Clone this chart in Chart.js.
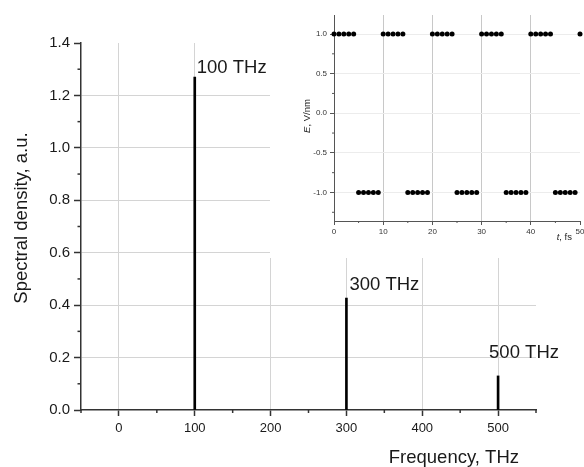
<!DOCTYPE html>
<html>
<head>
<meta charset="utf-8">
<script src="https://cdn.jsdelivr.net/npm/chart.js@4.4.1/dist/chart.umd.min.js"></script>
<style>
html,body{margin:0;padding:0;background:#fff;}
#wrap{position:relative;width:584px;height:467px;overflow:hidden;}
#main{position:absolute;left:0;top:0;}
#inset{position:absolute;left:270px;top:0;background:#fff;}
</style>
</head>
<body>
<div id="wrap">
  <canvas id="main" width="584" height="467"></canvas>
  <canvas id="inset" width="314" height="258"></canvas>
</div>
<script>
// ─── Spectrum data ───
const peakFreq  = [100, 300, 500];          // THz
const peakAmp   = [1.27, 0.427, 0.13];      // a.u.
const peakText  = ['100 THz', '300 THz', '500 THz'];
const freqTicks = [0, 100, 200, 300, 400, 500];
const ampTicks  = [0, 0.2, 0.4, 0.6, 0.8, 1.0, 1.2, 1.4];

// ─── Inset: square wave samples ───
const tFs    = [0,1,2,3,4,5,6,7,8,9,10,11,12,13,14,15,16,17,18,19,20,21,22,23,24,25,
                26,27,28,29,30,31,32,33,34,35,36,37,38,39,40,41,42,43,44,45,46,47,48,49,50];
const eField = [1,1,1,1,1,-1,-1,-1,-1,-1, 1,1,1,1,1,-1,-1,-1,-1,-1,
                1,1,1,1,1,-1,-1,-1,-1,-1, 1,1,1,1,1,-1,-1,-1,-1,-1,
                1,1,1,1,1,-1,-1,-1,-1,-1, 1];
const tTicks = [0, 10, 20, 30, 40, 50];
const eTicks = [-1, -0.5, 0, 0.5, 1];

const FONT = '"Liberation Sans", Arial, sans-serif';
const CLEAR = 'rgba(0,0,0,0)';

// ─── Minor tick marks (Chart.js has none) ───
const minorTicks = {
    id:'minorTicks',
    afterDraw(chart, args, o){
        const ctx = chart.ctx;
        ctx.save();
        ctx.strokeStyle = o.color; ctx.lineWidth = o.width;
        (o.axes||[]).forEach(a=>{
            const s = chart.scales[a.id];
            const majors = s.ticks.map(t=>t.value);
            for(let i=Math.ceil(s.min/a.step-1e-9); i*a.step<=s.max+1e-9; i++){
                const v = i*a.step;
                if(majors.some(m=>Math.abs(m-v)<1e-6)) continue;
                const p = s.getPixelForValue(v);
                ctx.beginPath();
                if(s.isHorizontal()){ ctx.moveTo(p, s.top); ctx.lineTo(p, s.top+a.len); }
                else { ctx.moveTo(s.right, p); ctx.lineTo(s.right-a.len, p); }
                ctx.stroke();
            }
        });
        ctx.restore();
    }
};

// ─── Titles + peak labels for main chart ───
const mainText = {
    id:'mainText',
    afterDraw(chart, args, o){
        const ctx = chart.ctx, xs = chart.scales.x, ys = chart.scales.y;
        ctx.save();
        ctx.fillStyle = '#1a1a1a';
        ctx.font = `18.5px ${FONT}`;
        ctx.textBaseline = 'alphabetic';
        // peak labels
        ctx.textAlign = 'left';
        peakFreq.forEach((f,i)=>{
            const [dx,dy] = o.offsets[i];
            ctx.fillText(peakText[i], xs.getPixelForValue(f)+dx, ys.getPixelForValue(peakAmp[i])-dy);
        });
        // x title
        ctx.textAlign = 'right';
        ctx.fillText('Frequency, THz', 519, 463);
        // y title
        ctx.translate(27, 218);
        ctx.rotate(-Math.PI/2);
        ctx.textAlign = 'center';
        ctx.fillText('Spectral density, a.u.', 0, 0);
        ctx.restore();
    }
};

// ─── Titles for inset ───
function mixedText(ctx, parts){
    let w = 0;
    parts.forEach(p=>{ctx.font=p[1]; w+=ctx.measureText(p[0]).width;});
    return w;
}
const insetText = {
    id:'insetText',
    afterDraw(chart){
        const ctx = chart.ctx;
        const it = `italic 9.5px ${FONT}`, rg = `9.5px ${FONT}`;
        ctx.save();
        ctx.fillStyle = '#222';
        ctx.textBaseline = 'alphabetic';
        ctx.textAlign = 'left';
        // y title, rotated
        let parts = [['E', it], [', V/nm', rg]];
        let w = mixedText(ctx, parts);
        ctx.save();
        ctx.translate(40, 116);
        ctx.rotate(-Math.PI/2);
        let x = -w/2;
        parts.forEach(p=>{ctx.font=p[1]; ctx.fillText(p[0], x, 0); x+=ctx.measureText(p[0]).width;});
        ctx.restore();
        // x title
        parts = [['t', it], [', fs', rg]];
        w = mixedText(ctx, parts);
        x = 302 - w;
        parts.forEach(p=>{ctx.font=p[1]; ctx.fillText(p[0], x, 240); x+=ctx.measureText(p[0]).width;});
        ctx.restore();
    }
};

// ─── Main spectrum ───
new Chart(document.getElementById('main'), {
    type:'bar',
    data:{datasets:[{
        data: peakFreq.map((f,i)=>({x:f, y:peakAmp[i]})),
        backgroundColor:'#000', borderWidth:0, barThickness:2
    }]},
    options:{
        responsive:false, animation:false,
        layout:{padding:{left:0, top:43, right:48, bottom:0}},
        plugins:{
            legend:{display:false}, tooltip:{enabled:false},
            minorTicks:{color:'#333', width:1.5, axes:[{id:'x', step:50, len:3}, {id:'y', step:0.1, len:3.5}]},
            mainText:{offsets:[[2,4],[3,8],[-9,18]]}
        },
        scales:{
            x:{
                type:'linear', min:-50, max:550, offset:false,
                afterBuildTicks:s=>{s.ticks = freqTicks.map(v=>({value:v}));},
                afterFit:s=>{s.height = 57; s.paddingLeft = 0; s.paddingRight = 0;},
                grid:{offset:false, color:'#d4d4d4', lineWidth:1, tickLength:6, tickColor:'#333', tickWidth:1.5},
                border:{color:'#333', width:1.5},
                ticks:{font:{size:13, family:FONT}, color:'#1a1a1a', padding:5, maxRotation:0, autoSkip:false,
                       callback:v=>String(v)}
            },
            y:{
                min:0, max:1.4,
                afterBuildTicks:s=>{s.ticks = ampTicks.map(v=>({value:v}));},
                afterFit:s=>{s.width = 81; s.paddingTop = 0; s.paddingBottom = 0;},
                grid:{color:c=>(c.tick && (c.tick.value===0 || c.tick.value>1.39)) ? CLEAR : '#d4d4d4',
                      lineWidth:1, tickLength:7, tickColor:'#333', tickWidth:1.5},
                border:{color:'#333', width:1.5},
                ticks:{font:{size:15, family:FONT}, color:'#1a1a1a', padding:4, autoSkip:false,
                       callback:v=>Number(v).toFixed(1)}
            }
        }
    },
    plugins:[minorTicks, mainText]
});

// ─── Inset: E(t) ───
new Chart(document.getElementById('inset'), {
    type:'scatter',
    data:{datasets:[{
        data: tFs.map((t,i)=>({x:t, y:eField[i]})),
        backgroundColor:'#000', borderWidth:0, pointRadius:2.5, clip:false
    }]},
    options:{
        responsive:false, animation:false,
        layout:{padding:{left:0, top:15, right:4, bottom:0}},
        plugins:{
            legend:{display:false}, tooltip:{enabled:false},
            minorTicks:{color:'#555', width:1, axes:[{id:'x', step:5, len:2}, {id:'y', step:0.25, len:2}]}
        },
        scales:{
            x:{
                type:'linear', min:0, max:50,
                afterBuildTicks:s=>{s.ticks = tTicks.map(v=>({value:v}));},
                afterFit:s=>{s.height = 37; s.paddingLeft = 0; s.paddingRight = 0;},
                grid:{color:c=>(c.tick && (c.tick.value===0 || c.tick.value===50)) ? CLEAR : '#c8c8c8',
                      lineWidth:1, tickLength:4, tickColor:'#555', tickWidth:1},
                border:{color:'#555', width:1},
                ticks:{font:{size:8, family:FONT}, color:'#333', padding:2, maxRotation:0, autoSkip:false,
                       callback:v=>String(v)}
            },
            y:{
                min:-1.36, max:1.24,
                afterBuildTicks:s=>{s.ticks = eTicks.map(v=>({value:v}));},
                afterFit:s=>{s.width = 64; s.paddingTop = 0; s.paddingBottom = 0;},
                grid:{color:'#ececec', lineWidth:1, tickLength:4, tickColor:'#555', tickWidth:1},
                border:{color:'#555', width:1},
                ticks:{font:{size:8, family:FONT}, color:'#333', padding:3, autoSkip:false,
                       callback:v=>Number(v).toFixed(1)}
            }
        }
    },
    plugins:[minorTicks, insetText]
});
</script>
</body>
</html>
